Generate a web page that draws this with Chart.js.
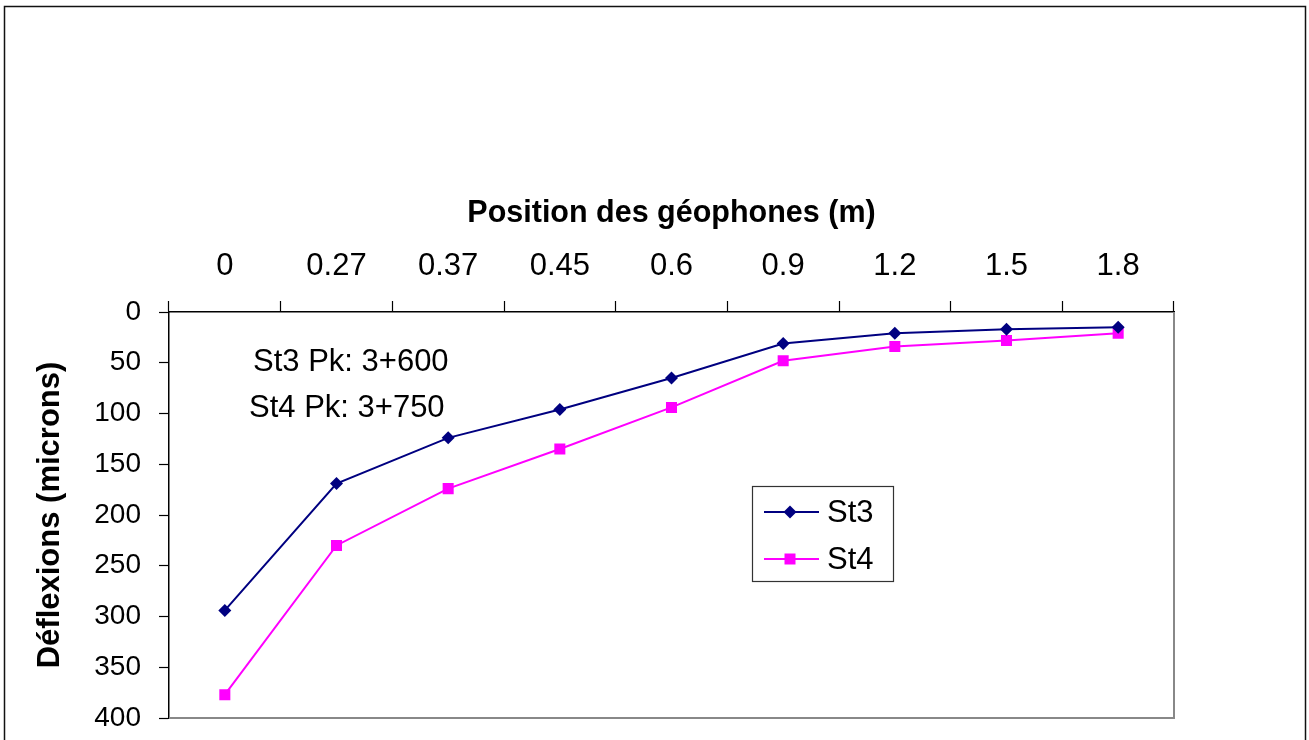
<!doctype html>
<html lang="fr">
<head>
    <meta charset="utf-8">
    <title>Déflexions - St3 / St4</title>
    <script src="https://cdn.jsdelivr.net/npm/chart.js@4.4.1/dist/chart.umd.min.js"></script>
    <style>
        html, body { margin: 0; padding: 0; background: #fff; }
        #wrap { width: 1309px; height: 740px; }
    </style>
</head>
<body>
<div id="wrap">
    <canvas id="myChart" width="1309" height="740"></canvas>
</div>
<script>
    // positions des géophones (m)
    var positions = ['0', '0.27', '0.37', '0.45', '0.6', '0.9', '1.2', '1.5', '1.8'];
    // déflexions mesurées (microns)
    var st3 = [294, 169, 124, 96, 65, 31, 21, 17, 15];
    var st4 = [377, 230, 174, 135, 94, 48, 34, 28, 21];
    var notes = ['St3 Pk: 3+600', 'St4 Pk: 3+750'];

    var police = "'Liberation Sans', Arial, sans-serif";
    Chart.defaults.font.family = police;
    Chart.defaults.color = '#000';

    // cadre, bordure grise de la zone de tracé, notes et légende
    var decor = {
        id: 'decor',
        beforeDraw: function (chart) {
            var ctx = chart.ctx;
            ctx.save();
            ctx.fillStyle = '#fff';
            ctx.fillRect(0, 0, chart.width, chart.height);
            ctx.strokeStyle = '#111';
            ctx.lineWidth = 1.5;
            ctx.strokeRect(4.5, 6.5, 1301, 800);
            ctx.restore();
        },
        beforeDatasetsDraw: function (chart) {
            var ctx = chart.ctx, a = chart.chartArea;
            ctx.save();
            ctx.strokeStyle = '#888';
            ctx.lineWidth = 2;
            ctx.beginPath();
            ctx.moveTo(a.left, a.bottom);
            ctx.lineTo(a.right, a.bottom);
            ctx.lineTo(a.right, a.top);
            ctx.stroke();

            ctx.fillStyle = '#000';
            ctx.font = '31px ' + police;
            ctx.textBaseline = 'middle';
            ctx.fillText(notes[0], 253, 362);
            ctx.fillText(notes[1], 249, 408);
            ctx.restore();
        },
        afterDatasetsDraw: function (chart) {
            var ctx = chart.ctx;
            ctx.save();
            ctx.fillStyle = '#fff';
            ctx.fillRect(752, 486, 141, 95);
            ctx.strokeStyle = '#333';
            ctx.lineWidth = 1.2;
            ctx.strokeRect(752.5, 486.5, 141, 95);

            var rows = [512, 559];
            chart.data.datasets.forEach(function (ds, i) {
                var y = rows[i];
                ctx.strokeStyle = ds.borderColor;
                ctx.lineWidth = ds.borderWidth;
                ctx.beginPath();
                ctx.moveTo(764, y);
                ctx.lineTo(819, y);
                ctx.stroke();
                ctx.fillStyle = ds.pointBackgroundColor;
                ctx.beginPath();
                if (ds.pointStyle === 'rectRot') {
                    ctx.moveTo(790, y - 6.5);
                    ctx.lineTo(796.5, y);
                    ctx.lineTo(790, y + 6.5);
                    ctx.lineTo(783.5, y);
                    ctx.closePath();
                } else {
                    ctx.rect(784.5, y - 5.5, 11, 11);
                }
                ctx.fill();
                ctx.fillStyle = '#000';
                ctx.font = '31px ' + police;
                ctx.textBaseline = 'middle';
                ctx.fillText(ds.label, 827, y + 1);
            });
            ctx.restore();
        }
    };

    var ctx = document.getElementById('myChart').getContext('2d');

    var myChart = new Chart(ctx, {
        type: 'line',
        data: {
            labels: positions,
            datasets: [{
                label: 'St3',
                data: st3,
                borderColor: '#000080',
                backgroundColor: '#000080',
                pointBackgroundColor: '#000080',
                pointBorderColor: '#000080',
                borderWidth: 2,
                pointStyle: 'rectRot',
                pointRadius: 6.5,
                pointBorderWidth: 0,
                tension: 0
            }, {
                label: 'St4',
                data: st4,
                borderColor: '#ff00ff',
                backgroundColor: '#ff00ff',
                pointBackgroundColor: '#ff00ff',
                pointBorderColor: '#ff00ff',
                borderWidth: 2,
                pointStyle: 'rect',
                pointRadius: 7.8,
                pointBorderWidth: 0,
                tension: 0
            }]
        },
        options: {
            responsive: false,
            animation: false,
            layout: {
                padding: { left: 4, top: 150, right: 135, bottom: 22 }
            },
            plugins: {
                legend: { display: false },
                tooltip: { enabled: false }
            },
            scales: {
                x: {
                    position: 'top',
                    offset: true,
                    afterFit: function (scale) {
                        scale.height = 162;
                        scale.paddingLeft = 0;
                        scale.paddingRight = 0;
                    },
                    grid: {
                        offset: true,
                        drawOnChartArea: false,
                        tickLength: 11,
                        tickColor: '#000',
                        tickWidth: 1.2
                    },
                    border: { color: '#000', width: 1.5 },
                    ticks: {
                        font: { size: 31 },
                        padding: 16,
                        maxRotation: 0,
                        autoSkip: false
                    },
                    title: {
                        display: true,
                        text: 'Position des géophones (m)',
                        font: { size: 30.5, weight: 'bold' },
                        padding: { top: 45, bottom: 0 }
                    }
                },
                y: {
                    reverse: true,
                    min: 0,
                    max: 400,
                    afterFit: function (scale) {
                        scale.width = 165;
                        // pas de marge pour les étiquettes extrêmes
                        scale.paddingTop = 0;
                        scale.paddingBottom = 0;
                    },
                    grid: {
                        drawOnChartArea: false,
                        tickLength: 10,
                        tickColor: '#000',
                        tickWidth: 1.2
                    },
                    border: { color: '#000', width: 1.5 },
                    ticks: {
                        stepSize: 50,
                        font: { size: 28 },
                        padding: 18
                    },
                    title: {
                        display: true,
                        text: 'Déflexions (microns)',
                        font: { size: 31, weight: 'bold' },
                        padding: { top: 28, bottom: 0 }
                    }
                }
            }
        },
        plugins: [decor]
    });
</script>
</body>
</html>
